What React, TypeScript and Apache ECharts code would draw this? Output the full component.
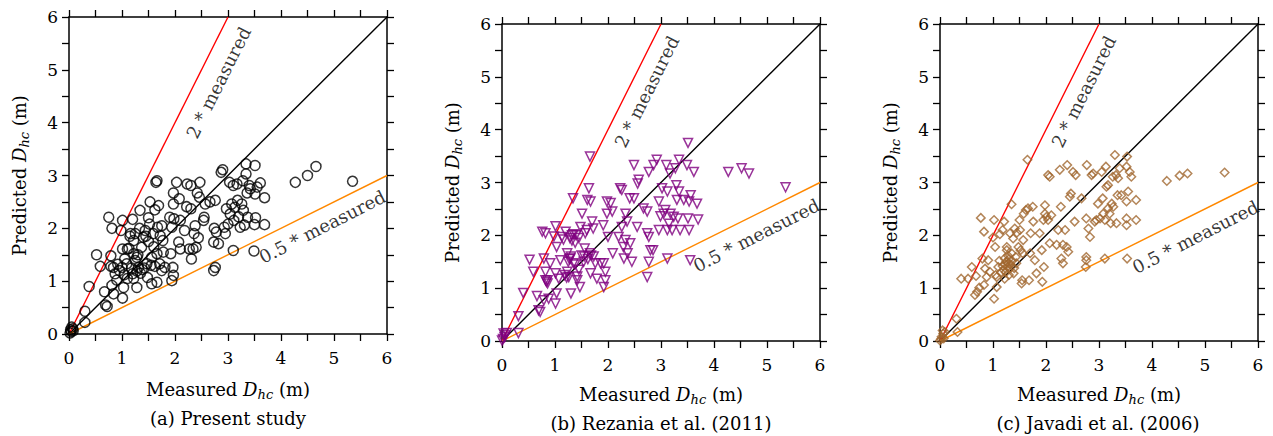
import React, { useEffect, useRef } from "react";
import * as echarts from "echarts";

// ---- data ----
const axisMin = 0;
const axisMax = 6;
const panelCaptions = ["(a) Present study", "(b) Rezania et al. (2011)", "(c) Javadi et al. (2006)"];
const equalityLine = [[0, 0], [6, 6]];
const doubleLine = [[0, 0], [3, 6]];
const halfLine = [[0, 0], [6, 3]];
const doubleLabelText = "2 * measured";
const halfLabelText = "0.5 * measured";

const presentStudy = [
  [0.02, 0.02], [0.04, 0.05], [0.07, 0.1], [0.05, 0.13], [0.08, 0.06], [0.03, 0.08],
  [0.3, 0.43], [0.3, 0.22], [0.38, 0.9], [0.52, 1.5], [0.59, 1.28], [0.67, 0.8], [0.69, 0.55], [0.72, 0.52],
  [0.75, 2.21], [0.81, 2.0], [0.79, 1.48], [0.79, 1.28], [0.84, 1.26], [0.81, 0.92], [0.84, 0.76], [0.87, 1.14], [0.9, 1.02],
  [1.01, 2.15], [0.98, 1.96], [1.01, 1.61], [1.0, 1.26], [1.03, 0.88], [1.01, 0.68], [1.04, 1.12], [1.09, 1.33], [1.1, 1.61],
  [1.2, 2.17], [1.16, 1.9], [1.22, 1.77], [1.22, 1.52], [1.25, 1.39], [1.2, 1.14], [1.28, 0.88], [1.28, 1.19], [1.31, 1.26], [1.33, 2.0], [1.34, 2.34], [1.37, 1.64],
  [1.4, 1.83], [1.44, 1.96], [1.47, 1.33], [1.48, 1.07], [1.5, 2.2], [1.52, 2.08], [1.53, 2.5], [1.56, 1.45], [1.56, 0.95], [1.59, 1.9], [1.62, 2.35], [1.64, 2.87], [1.66, 2.9], [1.67, 2.02], [1.69, 2.43], [1.66, 1.52], [1.71, 1.33], [1.72, 1.86], [1.75, 2.05], [1.77, 1.77], [1.75, 1.2], [1.78, 1.55], [1.81, 1.26], [1.66, 0.98],
  [1.15, 1.85], [1.25, 1.9], [1.3, 1.5], [1.18, 1.25], [1.35, 1.15], [1.42, 1.25], [1.28, 1.45], [0.95, 1.2], [1.1, 1.05], [1.45, 1.85], [1.38, 1.22], [1.55, 1.3], [1.5, 1.75], [0.92, 1.32], [1.05, 1.42], [1.6, 1.65], [1.22, 1.05], [1.13, 1.62], [1.62, 1.28],
  [1.9, 2.21], [1.92, 1.52], [1.94, 2.02], [1.94, 1.01], [1.96, 1.26], [1.97, 2.67], [1.97, 2.46], [1.97, 1.11], [1.98, 2.18], [2.03, 2.87], [2.07, 1.74], [2.08, 2.56], [2.1, 2.15], [2.1, 1.61],
  [2.18, 1.96], [2.22, 2.41], [2.23, 2.84], [2.27, 1.61], [2.3, 2.81], [2.3, 2.37], [2.31, 1.42], [2.34, 1.61], [2.36, 1.9], [2.38, 2.05], [2.4, 1.64], [2.42, 2.67], [2.44, 1.82], [2.47, 2.87], [2.46, 2.59], [2.54, 2.15], [2.55, 2.21], [2.57, 2.46],
  [2.66, 2.5], [2.73, 1.74], [2.73, 1.2], [2.76, 1.26], [2.74, 2.0], [2.76, 2.53], [2.78, 1.93], [2.82, 1.71], [2.87, 3.06], [2.9, 3.11], [2.93, 2.02], [2.95, 1.9], [2.97, 2.37], [3.0, 2.08], [3.03, 2.87], [3.04, 2.27], [3.07, 2.46], [3.1, 1.58], [3.1, 2.81], [3.11, 2.15], [3.13, 2.4], [3.17, 2.84], [3.18, 2.53], [3.2, 2.22], [3.23, 2.02], [3.26, 2.46], [3.28, 2.9], [3.29, 2.34], [3.31, 2.06], [3.34, 3.03], [3.34, 3.22], [3.36, 2.67], [3.37, 2.21], [3.4, 2.81], [3.42, 2.75], [3.49, 1.57], [3.5, 2.07], [3.51, 3.19], [3.51, 2.65], [3.52, 2.2], [3.55, 2.78], [3.61, 2.86], [3.69, 2.58], [3.69, 2.07],
  [4.27, 2.87], [4.5, 3.0], [4.66, 3.17], [5.35, 2.89],
];

const rezania2011 = [
  [0.0, 0.01], [0.03, 0.14], [0.06, 0.11], [0.02, 0.04], [0.09, 0.15], [0.05, 0.07],
  [0.31, 0.47], [0.31, 0.15], [0.4, 0.91], [0.52, 1.54], [0.59, 1.31], [0.66, 0.85], [0.69, 0.58], [0.72, 0.55],
  [0.76, 2.07], [0.82, 2.04], [0.79, 1.56], [0.82, 1.31], [0.82, 1.15], [0.86, 1.09], [0.79, 0.77], [0.88, 0.8], [0.91, 1.47],
  [1.01, 2.17], [0.98, 1.98], [1.03, 1.78], [1.01, 1.28], [1.03, 0.9], [1.01, 0.71], [1.07, 1.18], [1.1, 1.53], [1.16, 1.92], [1.2, 2.07], [1.23, 1.66], [1.23, 1.31], [1.26, 1.21], [1.29, 1.56], [1.3, 0.9], [1.32, 2.0], [1.34, 2.7], [1.35, 1.47], [1.38, 1.86], [1.4, 2.0], [1.42, 1.15], [1.45, 1.35], [1.47, 1.02], [1.48, 2.16], [1.51, 2.41], [1.54, 1.5], [1.56, 1.75], [1.57, 2.04], [1.61, 2.67], [1.66, 3.49], [1.64, 2.89], [1.67, 2.64], [1.66, 1.66], [1.67, 1.28], [1.7, 2.26], [1.72, 2.13], [1.73, 1.6], [1.76, 1.47], [1.79, 1.18], [1.86, 1.47], [1.91, 2.19], [1.92, 1.47], [1.92, 1.02], [1.95, 1.15], [1.95, 1.31], [1.98, 2.64], [1.98, 2.41], [2.0, 1.97], [2.05, 2.61], [2.08, 2.45], [2.09, 1.66],
  [0.84, 1.12], [0.86, 1.15], [1.22, 1.2], [1.25, 1.5], [1.27, 1.55], [1.3, 1.6], [1.28, 1.95], [1.32, 1.9], [1.35, 2.02], [1.18, 1.25], [1.42, 1.22], [1.5, 1.62], [1.55, 1.6], [1.45, 1.95], [1.62, 1.55], [1.68, 1.62], [1.6, 2.1], [1.13, 1.97], [1.38, 1.45],
  [2.2, 1.97], [2.23, 2.89], [2.26, 2.86], [2.26, 2.16], [2.29, 1.78], [2.3, 1.56], [2.33, 2.41], [2.33, 1.91], [2.36, 2.26], [2.37, 1.66], [2.41, 2.7], [2.42, 1.85], [2.45, 1.5], [2.49, 3.33], [2.49, 2.7], [2.55, 2.16], [2.56, 2.98], [2.58, 3.05], [2.67, 2.51], [2.74, 2.45], [2.74, 2.04], [2.77, 1.97], [2.74, 1.21], [2.77, 1.5], [2.77, 3.2], [2.8, 1.72], [2.85, 1.72], [2.86, 3.33], [2.92, 3.43], [2.96, 2.64], [2.96, 2.1], [2.99, 2.36], [3.02, 2.89], [3.05, 2.41], [3.08, 2.48], [3.1, 3.33], [3.12, 2.83], [3.12, 2.1], [3.12, 1.56], [3.15, 2.22], [3.17, 3.17], [3.18, 2.41], [3.21, 2.1], [3.24, 2.35], [3.27, 3.27], [3.29, 2.95], [3.3, 2.67], [3.32, 2.32], [3.34, 3.43], [3.34, 2.83], [3.36, 2.1], [3.43, 2.67], [3.49, 3.33], [3.51, 3.75], [3.51, 2.32], [3.53, 2.64], [3.53, 2.1], [3.55, 1.53], [3.56, 2.76], [3.62, 3.2], [3.68, 2.6], [3.7, 2.3],
  [4.27, 3.2], [4.52, 3.27], [4.66, 3.17], [5.35, 2.91],
];

const javadi2006 = [
  [0.0, 0.01], [0.03, 0.08], [0.06, 0.14], [0.05, 0.2], [0.09, 0.17], [0.02, 0.04], [0.07, 0.05],
  [0.31, 0.42], [0.33, 0.17], [0.4, 1.18], [0.53, 1.18], [0.6, 1.4], [0.68, 1.23], [0.66, 0.87], [0.7, 0.93], [0.74, 1.01], [0.77, 2.33], [0.83, 2.07], [0.8, 1.56], [0.85, 1.37], [0.83, 1.06], [0.88, 1.21], [0.91, 1.53], [0.94, 1.31],
  [1.02, 2.29], [1.0, 1.96], [1.04, 1.78], [1.02, 0.8], [1.07, 1.21], [1.07, 1.02], [1.1, 1.4], [1.13, 2.02], [1.18, 2.1], [1.21, 2.26], [1.22, 1.56], [1.22, 1.18], [1.26, 1.78], [1.29, 1.47], [1.31, 1.37], [1.32, 2.04], [1.35, 2.59], [1.35, 1.66], [1.38, 1.94], [1.39, 1.28], [1.41, 2.13], [1.43, 1.59], [1.44, 1.47], [1.48, 1.78], [1.5, 2.29], [1.51, 2.1], [1.54, 1.09], [1.56, 1.66], [1.57, 1.91], [1.58, 2.41], [1.62, 2.48], [1.65, 3.43], [1.66, 2.51], [1.68, 1.15], [1.7, 1.66], [1.71, 2.04], [1.75, 2.54], [1.76, 2.26], [1.79, 1.53], [1.82, 1.28], [1.88, 2.04], [1.92, 1.72], [1.93, 1.12], [1.95, 2.29], [1.96, 1.4], [1.98, 2.57], [1.98, 2.41], [2.01, 2.35], [2.04, 2.29], [2.04, 3.14], [2.07, 3.11], [2.07, 1.85], [2.1, 2.38],
  [1.2, 1.35], [1.23, 1.45], [1.25, 1.5], [1.27, 1.4], [1.3, 1.55], [1.28, 1.62], [1.24, 1.3], [1.33, 1.45], [1.3, 1.25], [1.18, 1.42], [1.15, 1.3], [1.36, 1.52], [1.26, 1.72], [1.12, 1.52], [1.4, 1.38], [1.52, 1.72], [1.55, 1.15], [1.45, 2.05], [1.05, 1.25],
  [2.2, 1.82], [2.23, 2.1], [2.26, 3.24], [2.28, 2.54], [2.29, 1.56], [2.32, 1.47], [2.32, 1.82], [2.36, 2.1], [2.39, 1.78], [2.4, 3.33], [2.42, 1.69], [2.45, 2.73], [2.47, 2.79], [2.51, 3.2], [2.54, 2.26], [2.56, 3.14], [2.67, 2.7], [2.76, 1.53], [2.76, 1.59], [2.75, 1.4], [2.76, 2.32], [2.77, 3.33], [2.8, 2.13], [2.83, 1.97], [2.86, 3.14], [2.89, 3.17], [2.92, 2.26], [2.95, 2.29], [2.98, 2.6], [3.02, 2.32], [3.05, 3.2], [3.07, 2.7], [3.08, 2.41], [3.11, 2.29], [3.11, 1.56], [3.13, 3.3], [3.14, 2.92], [3.17, 2.95], [3.17, 2.51], [3.2, 2.41], [3.22, 2.23], [3.24, 2.6], [3.26, 3.11], [3.27, 2.54], [3.3, 3.52], [3.32, 3.14], [3.33, 2.23], [3.35, 2.76], [3.36, 3.08], [3.39, 3.27], [3.42, 2.76], [3.52, 3.3], [3.53, 3.49], [3.52, 2.32], [3.52, 2.19], [3.52, 2.64], [3.53, 1.56], [3.55, 2.83], [3.58, 3.2], [3.61, 3.11], [3.7, 2.67], [3.7, 2.29],
  [4.28, 3.03], [4.52, 3.13], [4.67, 3.17], [5.37, 3.19],
];

const panelData = [presentStudy, rezania2011, javadi2006];
const doubleLabelPos = [[2.82, 4.76], [2.73, 4.72], [2.71, 4.72]];
const halfLabelPos = [[4.78, 2.03], [4.8, 2.0], [4.82, 1.97]];

// ---- styling ----
const SERIF = "'DejaVu Serif', 'Liberation Serif', serif";
const gridRects = [
  { left: 69, top: 17, width: 318, height: 317 },
  { left: 502, top: 24, width: 318, height: 317 },
  { left: 940, top: 24, width: 318, height: 317 },
];
const markerStyles = [
  { symbol: "circle", size: 10, color: "#000000", rotate: 0 },
  { symbol: "triangle", size: 9, color: "#800080", rotate: 180 },
  { symbol: "diamond", size: 8.5, color: "#a0672e", rotate: 0 },
];
const captionPos = [[228, 418], [661, 423], [1098, 423]];
const xNameGap = [44, 42, 42];
const yNameGap = [38, 38, 38];

const richName = {
  r: { fontFamily: SERIF, fontSize: 18, color: "#000", lineHeight: 23 },
  i: { fontFamily: SERIF, fontSize: 18, fontStyle: "italic", color: "#000", lineHeight: 23 },
  s: { fontFamily: SERIF, fontSize: 13, fontStyle: "italic", color: "#000", lineHeight: 14, verticalAlign: "bottom" },
};

function baseAxis(gridIndex: number, position: string, showLabel: boolean) {
  const isX = position === "bottom" || position === "top";
  return {
    type: "value",
    gridIndex,
    min: axisMin,
    max: axisMax,
    interval: 1,
    position,
    axisLine: { show: true, onZero: false, lineStyle: { color: "#000", width: 1.5 } },
    axisTick: { show: true, inside: false, length: 7, lineStyle: { color: "#000", width: 1.3 } },
    minorTick: { show: true, splitNumber: 2, length: 7, lineStyle: { color: "#000", width: 1.3 } },
    splitLine: { show: false },
    minorSplitLine: { show: false },
    axisLabel: {
      show: showLabel,
      color: "#000",
      fontFamily: SERIF,
      fontSize: 17,
      margin: isX ? 15 : 11,
    },
  };
}

export default function App() {
  const ref = useRef<HTMLDivElement>(null);
  useEffect(() => {
    if (!ref.current) return;
    const chart = echarts.init(ref.current, undefined, { renderer: "svg" });
    const grid: any[] = [];
    const xAxis: any[] = [];
    const yAxis: any[] = [];
    const series: any[] = [];
    const graphic: any[] = [];
    for (let i = 0; i < 3; i++) {
      grid.push({ ...gridRects[i], containLabel: false });
      xAxis.push({
        ...baseAxis(i, "bottom", true),
        name: "{r|Measured }{i|D}{s|hc}{r| (m)}",
        nameLocation: "middle",
        nameGap: xNameGap[i],
        nameTextStyle: { rich: richName },
      });
      xAxis.push(baseAxis(i, "top", false));
      yAxis.push({
        ...baseAxis(i, "left", true),
        name: "{r|Predicted }{i|D}{s|hc}{r| (m)}",
        nameLocation: "middle",
        nameGap: yNameGap[i],
        nameRotate: 90,
        nameTextStyle: { rich: richName },
      });
      yAxis.push(baseAxis(i, "right", false));
      const xi = i * 2;
      const yi = i * 2;
      const lineCommon = {
        type: "line",
        xAxisIndex: xi,
        yAxisIndex: yi,
        showSymbol: false,
        symbol: "none",
        silent: true,
        z: 1,
      };
      series.push({ ...lineCommon, data: equalityLine, lineStyle: { color: "#000", width: 1.4 } });
      series.push({ ...lineCommon, data: doubleLine, lineStyle: { color: "#ff0000", width: 1.4 } });
      series.push({ ...lineCommon, data: halfLine, lineStyle: { color: "#ff8800", width: 1.4 } });
      const m = markerStyles[i];
      series.push({
        type: "scatter",
        xAxisIndex: xi,
        yAxisIndex: yi,
        data: panelData[i],
        symbol: m.symbol,
        symbolSize: m.size,
        symbolRotate: m.rotate,
        itemStyle: { color: "rgba(0,0,0,0)", borderColor: m.color, borderWidth: 1.5 },
        z: 3,
      });
      const labelSeries = (pos: number[], text: string, rot: number) => ({
        type: "scatter",
        xAxisIndex: xi,
        yAxisIndex: yi,
        data: [pos],
        symbolSize: 1,
        itemStyle: { color: "rgba(0,0,0,0)" },
        silent: true,
        z: 4,
        label: {
          show: true,
          position: "inside",
          formatter: text,
          rotate: rot,
          color: "#000",
          textBorderWidth: 0,
          textBorderColor: "transparent",
          fontFamily: SERIF,
          fontSize: 18,
          align: "center",
          verticalAlign: "middle",
        },
      });
      series.push(labelSeries(doubleLabelPos[i], doubleLabelText, 63.4));
      series.push(labelSeries(halfLabelPos[i], halfLabelText, 27));
      graphic.push({
        type: "text",
        x: captionPos[i][0],
        y: captionPos[i][1],
        style: {
          text: panelCaptions[i],
          fill: "#000",
          fontFamily: SERIF,
          fontSize: 18,
          textAlign: "center",
          textVerticalAlign: "middle",
        },
      });
    }
    chart.setOption({
      animation: false,
      backgroundColor: "#fff",
      grid,
      xAxis,
      yAxis,
      series,
      graphic,
    });
    return () => chart.dispose();
  }, []);
  return <div ref={ref} style={{ position: "fixed", left: 0, top: 0, width: 1273, height: 436 }} />;
}
